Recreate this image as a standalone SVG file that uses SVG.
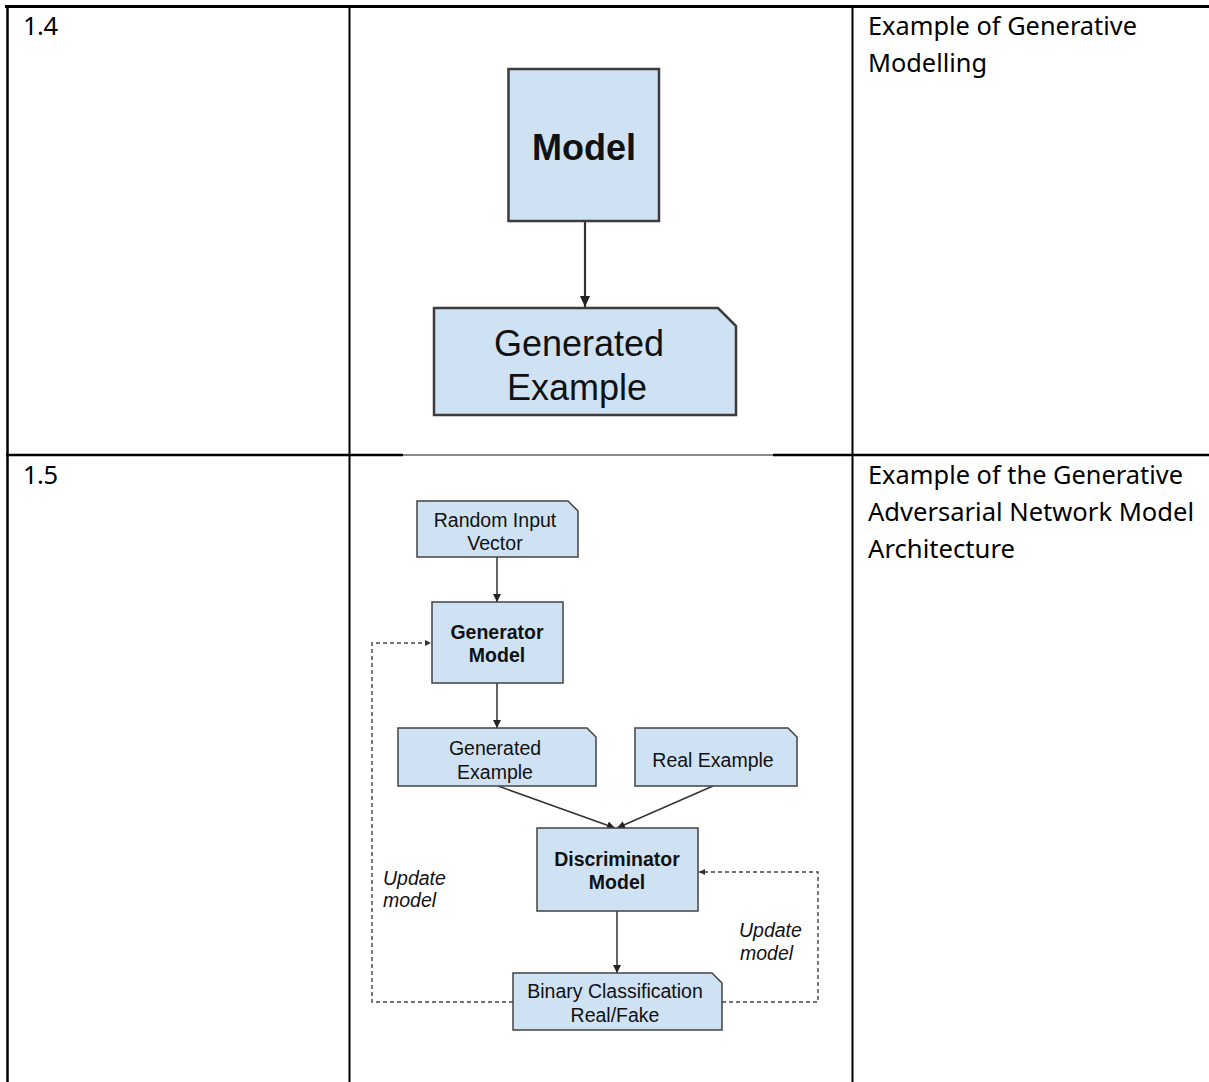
<svg xmlns="http://www.w3.org/2000/svg" width="1209" height="1082" viewBox="0 0 1209 1082">
  <style>
    .grid { stroke: #000; fill: none; }
    .cell { font-family: "Noto Sans", "Open Sans", "Liberation Sans", sans-serif; font-size: 25.5px; fill: #000; font-variant-ligatures: none; }
    .box { fill: #cfe2f3; stroke: #434343; stroke-width: 1.5; }
    .bigbox { fill: #cfe2f3; stroke: #3c3c3c; stroke-width: 2.5; }
    .lbl { font-family: "Liberation Sans", Arial, sans-serif; font-size: 19.5px; fill: #111; text-anchor: middle; }
    .big { font-size: 36px; }
    .b { font-weight: bold; }
    .it { font-family: "Liberation Sans", Arial, sans-serif; font-size: 19.5px; font-style: italic; fill: #111; }
    .edge { stroke: #333; stroke-width: 1.5; fill: none; }
    .edge.thick { stroke-width: 2.2; }
    .dash { stroke: #444; stroke-width: 1.4; fill: none; stroke-dasharray: 4 3; }
  </style>
  <defs>
    <marker id="arr" markerUnits="userSpaceOnUse" markerWidth="10" markerHeight="10" refX="8" refY="4" orient="auto">
      <path d="M0,0 L8,4 L0,8 Z" fill="#222"/>
    </marker>
    <marker id="arrBig" markerUnits="userSpaceOnUse" markerWidth="14" markerHeight="14" refX="11" refY="5" orient="auto">
      <path d="M0,0 L11,5 L0,10 Z" fill="#222"/>
    </marker>
    <marker id="arrDash" markerUnits="userSpaceOnUse" markerWidth="8" markerHeight="8" refX="6" refY="3" orient="auto">
      <path d="M0,0 L6,3 L0,6 Z" fill="#333"/>
    </marker>
  </defs>

  <rect x="0" y="0" width="1209" height="1082" fill="#fff"/>

  <!-- table rules -->
  <g id="table">
    <line class="grid" x1="5" y1="6.5" x2="1209" y2="6.5" stroke-width="3"/>
    <line class="grid" x1="7.5" y1="5" x2="7.5" y2="1082" stroke-width="2.5"/>
    <line class="grid" x1="349.5" y1="6" x2="349.5" y2="1082" stroke-width="2"/>
    <line class="grid" x1="852.5" y1="6" x2="852.5" y2="1082" stroke-width="2"/>
    <line class="grid" x1="6" y1="455" x2="403" y2="455" stroke-width="2.5"/>
    <line class="grid" x1="773" y1="455" x2="1209" y2="455" stroke-width="2.5"/>
    <line x1="403" y1="455" x2="773" y2="455" stroke="#666" stroke-width="1.5"/>
  </g>

  <!-- table text -->
  <g id="cells">
    <text class="cell" x="23" y="35" textLength="35">1.4</text>
    <text class="cell" x="868" y="35" textLength="269" lengthAdjust="spacingAndGlyphs">Example of Generative</text>
    <text class="cell" x="868" y="72" textLength="119" lengthAdjust="spacingAndGlyphs">Modelling</text>
    <text class="cell" x="23" y="484" textLength="35">1.5</text>
    <text class="cell" x="868" y="484" textLength="315" lengthAdjust="spacingAndGlyphs">Example of the Generative</text>
    <text class="cell" x="868" y="521" textLength="326" lengthAdjust="spacingAndGlyphs">Adversarial Network Model</text>
    <text class="cell" x="868" y="558" textLength="147" lengthAdjust="spacingAndGlyphs">Architecture</text>
  </g>

  <!-- connectors -->
  <g id="connectors">
    <line class="edge thick" x1="585" y1="221" x2="585" y2="307" marker-end="url(#arrBig)"/>
    <line class="edge" x1="497" y1="557" x2="497" y2="602" marker-end="url(#arr)"/>
    <line class="edge" x1="497" y1="683" x2="497" y2="728" marker-end="url(#arr)"/>
    <line class="edge" x1="498" y1="786" x2="615" y2="828" marker-end="url(#arr)"/>
    <line class="edge" x1="713" y1="786" x2="617" y2="828" marker-end="url(#arr)"/>
    <line class="edge" x1="617" y1="911" x2="617" y2="973" marker-end="url(#arr)"/>
    <path class="dash" d="M513,1002 H372 V643 H431" marker-end="url(#arrDash)"/>
    <path class="dash" d="M722,1002 H818 V872 H699" marker-end="url(#arrDash)"/>
  </g>

  <!-- generative model -->
  <g id="model">
    <rect class="bigbox" x="508.5" y="69" width="150.5" height="152"/>
    <text class="lbl big b" x="584" y="160">Model</text>
  </g>
  <g id="generated-example-big">
    <path class="bigbox" d="M434,308 H718 L736,326 V415 H434 Z"/>
    <text class="lbl big" x="579" y="356">Generated</text>
    <text class="lbl big" x="577" y="400">Example</text>
  </g>

  <!-- GAN architecture -->
  <g id="random-input">
    <path class="box" d="M417,501 H568 L578,511 V557 H417 Z"/>
    <text class="lbl" x="495" y="527">Random Input</text>
    <text class="lbl" x="495" y="550">Vector</text>
  </g>
  <g id="generator">
    <rect class="box" x="432" y="602" width="131" height="81"/>
    <text class="lbl b" x="497" y="639">Generator</text>
    <text class="lbl b" x="497" y="662">Model</text>
  </g>
  <g id="generated-example">
    <path class="box" d="M398,728 H587 L596,737 V786 H398 Z"/>
    <text class="lbl" x="495" y="755">Generated</text>
    <text class="lbl" x="495" y="779">Example</text>
  </g>
  <g id="real-example">
    <path class="box" d="M635,728 H788 L797,737 V786 H635 Z"/>
    <text class="lbl" x="713" y="767">Real Example</text>
  </g>
  <g id="discriminator">
    <rect class="box" x="537" y="828" width="161" height="83"/>
    <text class="lbl b" x="617" y="866">Discriminator</text>
    <text class="lbl b" x="617" y="889">Model</text>
  </g>
  <g id="classification">
    <path class="box" d="M513,973 H712 L722,983 V1030 H513 Z"/>
    <text class="lbl" x="615" y="998">Binary Classification</text>
    <text class="lbl" x="615" y="1022">Real/Fake</text>
  </g>
  <g id="update-labels">
    <text class="it" x="383" y="885">Update</text>
    <text class="it" x="383" y="907">model</text>
    <text class="it" x="739" y="937">Update</text>
    <text class="it" x="740" y="960">model</text>
  </g>
</svg>
